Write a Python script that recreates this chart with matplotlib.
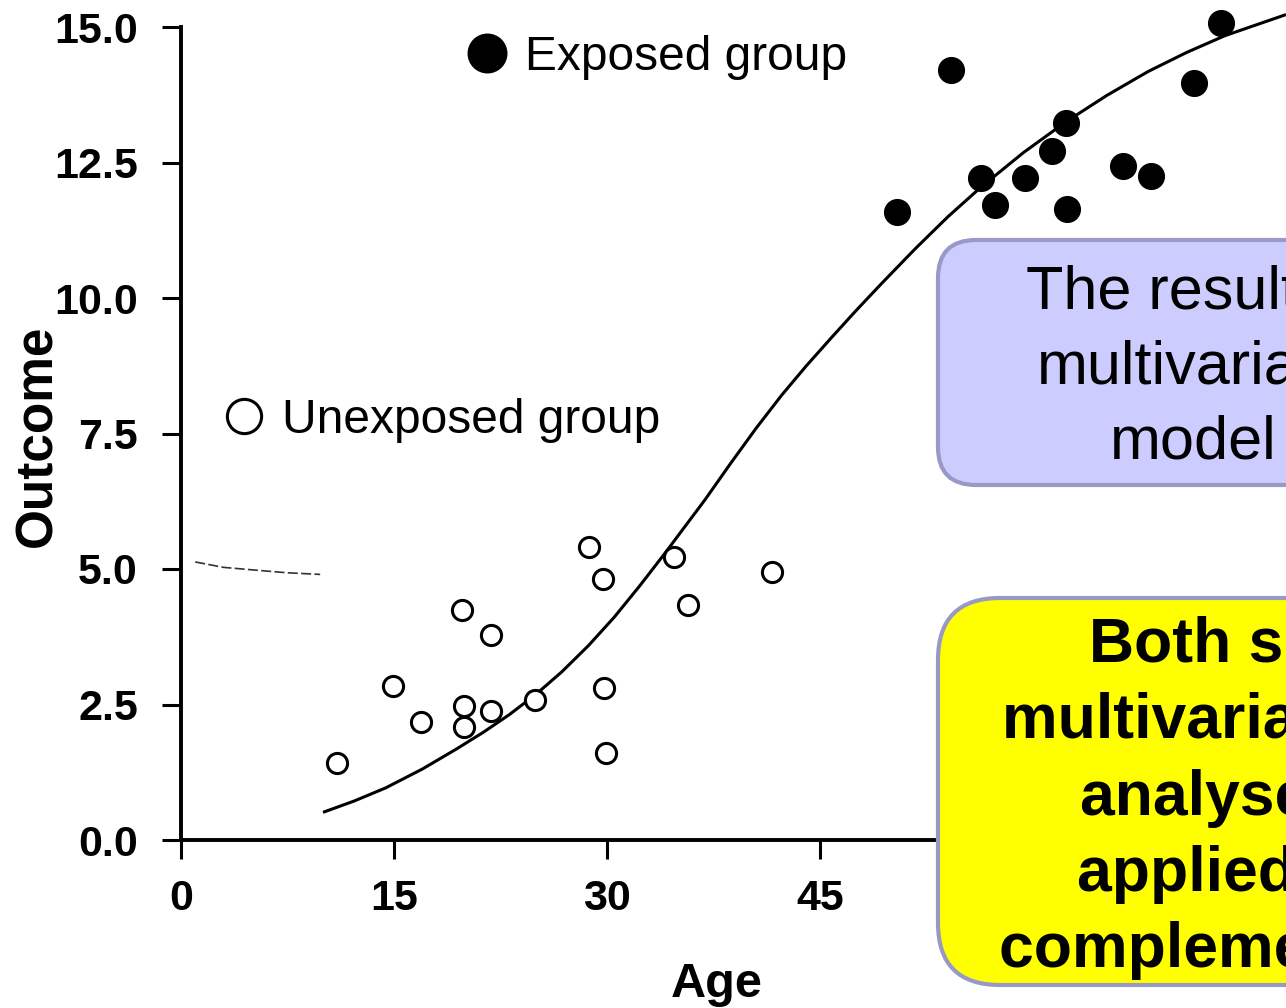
import matplotlib
matplotlib.use("Agg")
import matplotlib.pyplot as plt
from matplotlib.patches import FancyBboxPatch
from matplotlib.transforms import IdentityTransform

plt.rcParams['font.family'] = ['Liberation Sans', 'DejaVu Sans']

# unexposed group (open circles)
unexp_age = [11.0, 14.9, 16.9, 19.8, 19.9, 19.9, 21.8, 21.8, 24.9, 28.7, 29.7, 29.8, 29.9, 34.7, 35.7, 41.6]
unexp_out = [1.42, 2.84, 2.18, 4.24, 2.47, 2.08, 3.78, 2.38, 2.58, 5.41, 4.82, 2.80, 1.61, 5.22, 4.34, 4.94]

# exposed group (filled circles)
exp_age = [50.4, 54.2, 56.3, 57.3, 59.4, 61.3, 62.3, 62.4, 66.3, 68.3, 71.3, 73.2]
exp_out = [11.59, 14.21, 12.21, 11.72, 12.21, 12.71, 13.23, 11.64, 12.44, 12.25, 13.97, 15.07]

# fitted curve
curve_age = [10.1, 12.2, 14.4, 17.0, 19.4, 21.3, 23.1, 25.0, 26.8, 28.7, 30.5, 32.3, 34.1,
             35.5, 36.9, 38.7, 40.5, 42.3, 44.0, 45.8, 47.5, 49.3, 51.7, 54.0, 56.3,
             59.3, 62.3, 65.2, 68.1, 70.8, 73.5, 77.7]
curve_out = [0.52, 0.72, 0.96, 1.31, 1.68, 1.99, 2.31, 2.69, 3.10, 3.59, 4.11, 4.69, 5.30,
             5.79, 6.28, 6.95, 7.60, 8.21, 8.74, 9.27, 9.76, 10.26, 10.91, 11.50, 12.04,
             12.68, 13.25, 13.74, 14.18, 14.53, 14.84, 15.22]

# stray scan mark near 5.0
mark_age = [1.0, 3.0, 5.2, 7.5, 9.8]
mark_out = [5.13, 5.03, 4.98, 4.93, 4.90]

xticks = [0, 15, 30, 45]
yticks = [0.0, 2.5, 5.0, 7.5, 10.0, 12.5, 15.0]

fig = plt.figure(figsize=(12.86, 10.08), dpi=100)
ax = fig.add_axes([181/1286, 168/1008, 1105/1286, 813/1008])

ax.plot(curve_age, curve_out, color='black', lw=2.2, zorder=2, clip_on=False)
ax.plot(mark_age, mark_out, color='#333333', lw=1.2, ls=(0, (6, 2)), zorder=2)
h_unexp, = ax.plot(unexp_age, unexp_out, ls='none', marker='o', ms=14.5, mfc='white',
                   mec='black', mew=2.2, zorder=3, clip_on=False)
h_exp, = ax.plot(exp_age, exp_out, ls='none', marker='o', ms=18.5, mfc='black',
                 mec='black', zorder=3, clip_on=False)

ax.set_xlim(0, 77.8)
ax.set_ylim(0, 15)
ax.set_xticks(xticks)
ax.set_yticks(yticks)
ax.set_yticklabels(['%.1f' % v for v in yticks])
for s in ['top', 'right']:
    ax.spines[s].set_visible(False)
for s in ['left', 'bottom']:
    ax.spines[s].set_linewidth(2.8)
ax.tick_params(direction='out', length=14, width=2.2, labelsize=31)
ax.tick_params(axis='y', pad=17)
ax.tick_params(axis='x', pad=14)
for lab in ax.get_xticklabels() + ax.get_yticklabels():
    lab.set_fontweight('bold')

ax.set_xlabel('Age', fontsize=35, fontweight='bold')
ax.xaxis.set_label_coords((717 - 181) / 1105, -0.150)
ax.set_ylabel('Outcome', fontsize=37, fontweight='bold')
ax.yaxis.set_label_coords((62 - 181) / 1105, 0.497)

leg1 = ax.legend(handles=[h_exp], labels=['Exposed group'], loc='center left',
                 bbox_to_anchor=(463/1286, 1 - 57/1008), bbox_transform=fig.transFigure,
                 frameon=False, borderpad=0, borderaxespad=0, handlelength=1.0,
                 handletextpad=0.3, markerscale=1.5, fontsize=34.5)
ax.add_artist(leg1)
ax.legend(handles=[h_unexp], labels=['Unexposed group'], loc='center left',
          bbox_to_anchor=(220/1286, 1 - 420/1008), bbox_transform=fig.transFigure,
          frameon=False, borderpad=0, borderaxespad=0, handlelength=1.0,
          handletextpad=0.3, markerscale=1.7, fontsize=34.5)

# overlay boxes (pixel coordinates)
box1 = FancyBboxPatch((938, 1008 - 485), 504, 245, boxstyle='round,pad=0,rounding_size=38',
                      fc='#CCCCFF', ec='#9999C6', lw=3, transform=IdentityTransform(), zorder=5)
box2 = FancyBboxPatch((938, 1008 - 985), 664, 387, boxstyle='round,pad=0,rounding_size=62',
                      fc='#FFFF00', ec='#9999C6', lw=3, transform=IdentityTransform(), zorder=5)
fig.patches.extend([box1, box2])

fig.text(1193/1286, 1 - 368/1008, 'The result is\nmultivariate\nmodel', ha='center', va='center',
         multialignment='center', fontsize=44, linespacing=1.42, zorder=6)
fig.text(1268/1286, 1 - 798/1008,
         'Both simple\nmultivariable, and\nanalyses are\napplied, they\ncomplementary to',
         ha='center', va='center', multialignment='center', fontsize=45, fontweight='bold',
         linespacing=1.37, zorder=6)

fig.savefig('out.png', dpi=100)
